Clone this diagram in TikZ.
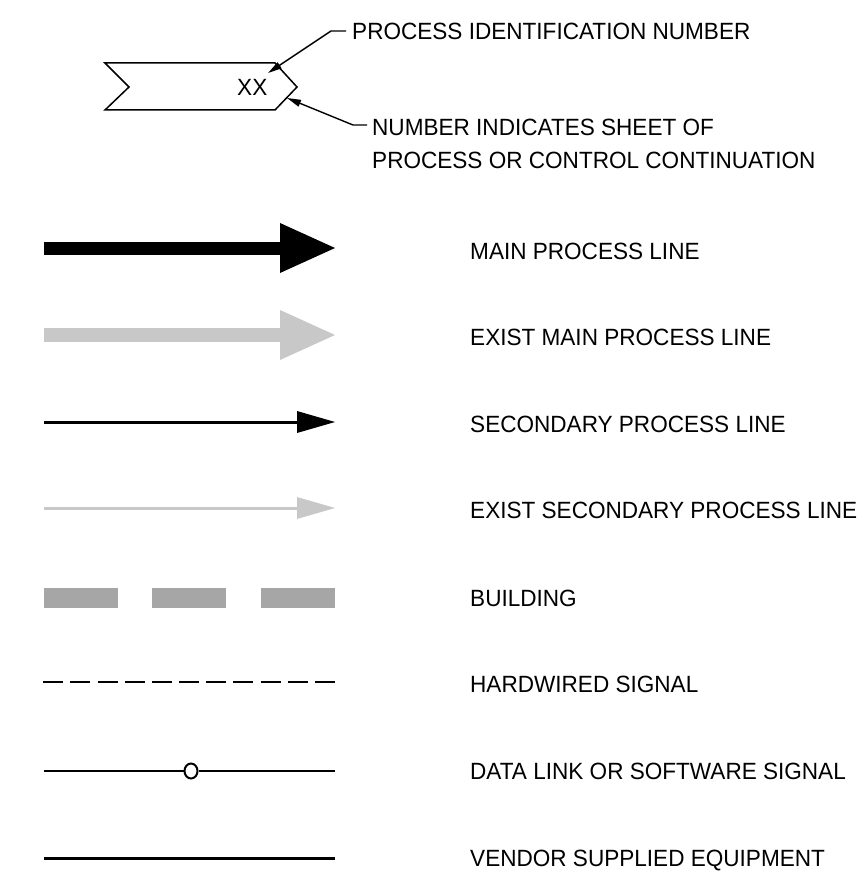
\documentclass[tikz,border=0pt]{standalone}
\usepackage{fontspec}
\setmainfont{Liberation Sans}[FakeStretch=0.96]
\usetikzlibrary{arrows.meta,shapes.geometric}
\definecolor{existgray}{HTML}{C8C8C8}
\definecolor{bldgray}{HTML}{A6A6A6}
\tikzset{
  lbl/.style={anchor=base west, inner sep=0pt, font=\fontsize{23.5}{28}\selectfont},
  leader/.style={line width=1.4pt, -{Triangle[length=14pt,width=7pt]}},
  flagline/.style={line width=1.5pt, line join=miter},
  thinline/.style={line width=3pt},
  sigline/.style={line width=2.4pt},
}
\begin{document}
\begin{tikzpicture}[x=1pt,y=-1pt]
\useasboundingbox (0,0) rectangle (864,885);
% flag
\coordinate (f1) at (105,63);
\coordinate (f2) at (275,63);
\coordinate (f3) at (297,87);
\coordinate (f4) at (275,110);
\coordinate (f5) at (105,110);
\coordinate (f6) at (129,87);
\draw[flagline] (f1) -- (f2) -- (f3) -- (f4) -- (f5) -- (f6) -- cycle;
\node[lbl] (xx) at (237,96) {XX};
% leaders
\coordinate (t1) at (268,73);
\coordinate (c1) at (331,31);
\coordinate (e1) at (346,31);
\draw[leader] (e1) -- (c1) -- (t1);
\node[lbl] (pid) at (352,39.5) {PROCESS IDENTIFICATION NUMBER};
\coordinate (t2) at (287,98);
\coordinate (c2) at (353,125);
\coordinate (e2) at (367,125);
\draw[leader] (e2) -- (c2) -- (t2);
\node[lbl] (num1) at (372,135.5) {NUMBER INDICATES SHEET OF};
\node[lbl] (num2) at (372,168.5) {PROCESS OR CONTROL CONTINUATION};
% main process line
\fill[black] (44,241.7) rectangle (281,255);
\fill[black] (280,223) -- (335,248) -- (280,273) -- cycle;
\node[lbl] (l1) at (470,259.5) {MAIN PROCESS LINE};
% exist main process line
\fill[existgray] (44,328.3) rectangle (281,341.7);
\fill[existgray] (280,310) -- (335,335) -- (280,360) -- cycle;
\node[lbl] (l2) at (470,345.5) {EXIST MAIN PROCESS LINE};
% secondary
\coordinate (s1) at (44,422);
\coordinate (s2) at (299,422);
\draw[thinline] (s1) -- (s2);
\fill[black] (297,411) -- (335,422) -- (297,433) -- cycle;
\node[lbl] (l3) at (470,432.5) {SECONDARY PROCESS LINE};
% exist secondary
\coordinate (es1) at (44,508);
\coordinate (es2) at (299,508);
\draw[thinline, existgray] (es1) -- (es2);
\fill[existgray] (297,497) -- (335,508) -- (297,519) -- cycle;
\node[lbl] (l4) at (470,518.5) {EXIST SECONDARY PROCESS LINE};
% building
\fill[bldgray] (44,588) rectangle (118,608);
\fill[bldgray] (152,588) rectangle (226,608);
\fill[bldgray] (261,588) rectangle (335,608);
\node[lbl] (l5) at (470,606.5) {BUILDING};
% hardwired
\coordinate (h1) at (43.3,682);
\coordinate (h2) at (335,682);
\draw[sigline, dash pattern=on 20pt off 7.17pt] (h1) -- (h2);
\node[lbl] (l6) at (470,692.5) {HARDWIRED SIGNAL};
% data link
\coordinate (d1) at (44,771);
\coordinate (d2) at (335,771);
\node[draw, ellipse, line width=2pt, minimum width=13pt, minimum height=15pt, inner sep=0pt] (dc) at (191,771) {};
\draw[sigline] (d1) -- (dc.west);
\draw[sigline] (dc.east) -- (d2);
\node[lbl] (l7) at (470,779.5) {DATA LINK OR SOFTWARE SIGNAL};
% vendor
\coordinate (v1) at (44,858);
\coordinate (v2) at (335,858);
\draw[line width=3pt] (v1) -- (v2);
\node[lbl] (l8) at (470,866.5) {VENDOR SUPPLIED EQUIPMENT};
\end{tikzpicture}
\end{document}
